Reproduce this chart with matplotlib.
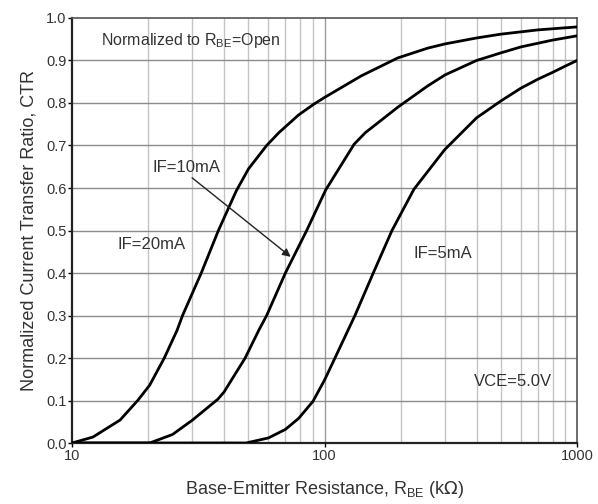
import matplotlib
matplotlib.use('Agg')
import matplotlib.pyplot as plt
from matplotlib.ticker import FixedLocator, NullFormatter

plt.rcParams['font.family'] = ['Liberation Sans', 'DejaVu Sans']

# values (R_BE in kOhm, normalized CTR)
r20 = [10, 12.1, 15.5, 18.2, 20.3, 23.2, 26.1, 27.4, 32.5, 38, 44.7, 50, 59, 65.9, 79, 90.6,
       100, 140, 195, 256, 300, 400, 500, 700, 1000]
ctr20 = [0.0, 0.014, 0.054, 0.1, 0.136, 0.2, 0.266, 0.3, 0.4, 0.5, 0.593, 0.645, 0.7, 0.73, 0.772, 0.797,
         0.813, 0.864, 0.906, 0.929, 0.939, 0.953, 0.962, 0.972, 0.979]

r10 = [10, 20.3, 25, 30, 37.8, 40, 48.5, 55, 59, 70, 85, 101, 131, 145, 195, 256, 300,
       400, 500, 600, 800, 1000]
ctr10 = [0.0, 0.0, 0.02, 0.054, 0.103, 0.12, 0.2, 0.266, 0.3, 0.4, 0.5, 0.595, 0.703, 0.73, 0.79, 0.84, 0.866,
         0.9, 0.918, 0.932, 0.948, 0.958]

r5 = [10, 48.9, 60, 70, 79, 90, 100, 110, 132, 156, 185, 226, 299, 400, 500, 600, 700,
      800, 900, 1000]
ctr5 = [0.0, 0.0, 0.012, 0.032, 0.058, 0.098, 0.148, 0.2, 0.3, 0.4, 0.5, 0.597, 0.69, 0.765, 0.805,
        0.835, 0.856, 0.872, 0.887, 0.9]

xticks = [10, 100, 1000]
yticks = [0.0, 0.1, 0.2, 0.3, 0.4, 0.5, 0.6, 0.7, 0.8, 0.9, 1.0]
minor_x = [20, 30, 40, 50, 60, 70, 80, 90, 200, 300, 400, 500, 600, 700, 800, 900]

fig = plt.figure(figsize=(5.98, 5.04), dpi=100)
ax = fig.add_axes([0.1204, 0.121, 0.8445, 0.8433])

ax.set_xscale('log')
ax.set_xlim(10, 1000)
ax.set_ylim(0, 1.0)

# grid: light verticals, darker horizontals
for v in minor_x:
    ax.axvline(v, color='#c4c4c4', lw=1.0, zorder=1)
ax.axvline(100, color='#9a9a9a', lw=1.0, zorder=1)
for h in yticks[1:-1]:
    ax.axhline(h, color='#8c8c8c', lw=1.0, zorder=1)

ax.plot(r20, ctr20, color='black', lw=2, zorder=3)
ax.plot(r10, ctr10, color='black', lw=2, zorder=3)
ax.plot(r5, ctr5, color='black', lw=2, zorder=3)

ax.xaxis.set_major_locator(FixedLocator(xticks))
ax.xaxis.set_minor_locator(FixedLocator(minor_x))
ax.xaxis.set_minor_formatter(NullFormatter())
ax.set_xticklabels(['10', '100', '1000'])
ax.set_yticks(yticks)
ax.set_yticklabels(['%.1f' % t for t in yticks])
ax.tick_params(axis='both', which='major', direction='out', length=3, width=1,
               labelsize=10.5, labelcolor='#333333', pad=1)
ax.tick_params(axis='x', which='minor', length=0)

for s in ['left', 'bottom']:
    ax.spines[s].set_linewidth(1.6)
    ax.spines[s].set_color('#222222')
for s in ['top', 'right']:
    ax.spines[s].set_linewidth(1.2)
    ax.spines[s].set_color('#555555')

ax.set_xlabel(r'Base-Emitter Resistance, R$_\mathregular{BE}$ (k$\Omega$)',
              fontsize=13, color='#333333', labelpad=12)
ax.set_ylabel('Normalized Current Transfer Ratio, CTR', fontsize=13,
              color='#333333', labelpad=6)

tc = '#333333'
ax.text(29.5, 0.948, r'Normalized to R$_\mathregular{BE}$=Open', fontsize=11.5,
        color=tc, ha='center', va='center')
ax.text(28.5, 0.648, 'IF=10mA', fontsize=12, color=tc, ha='center', va='center')
ax.text(20.7, 0.468, 'IF=20mA', fontsize=12, color=tc, ha='center', va='center')
ax.text(294, 0.447, 'IF=5mA', fontsize=12, color=tc, ha='center', va='center')
ax.text(560, 0.144, 'VCE=5.0V', fontsize=12, color=tc, ha='center', va='center')

ax.annotate('', xy=(73.5, 0.438), xytext=(29.9, 0.624),
            arrowprops=dict(arrowstyle='-|>', color='#222222', lw=1,
                            mutation_scale=12, shrinkA=0, shrinkB=0),
            zorder=4)

plt.savefig('out.png', dpi=100)
